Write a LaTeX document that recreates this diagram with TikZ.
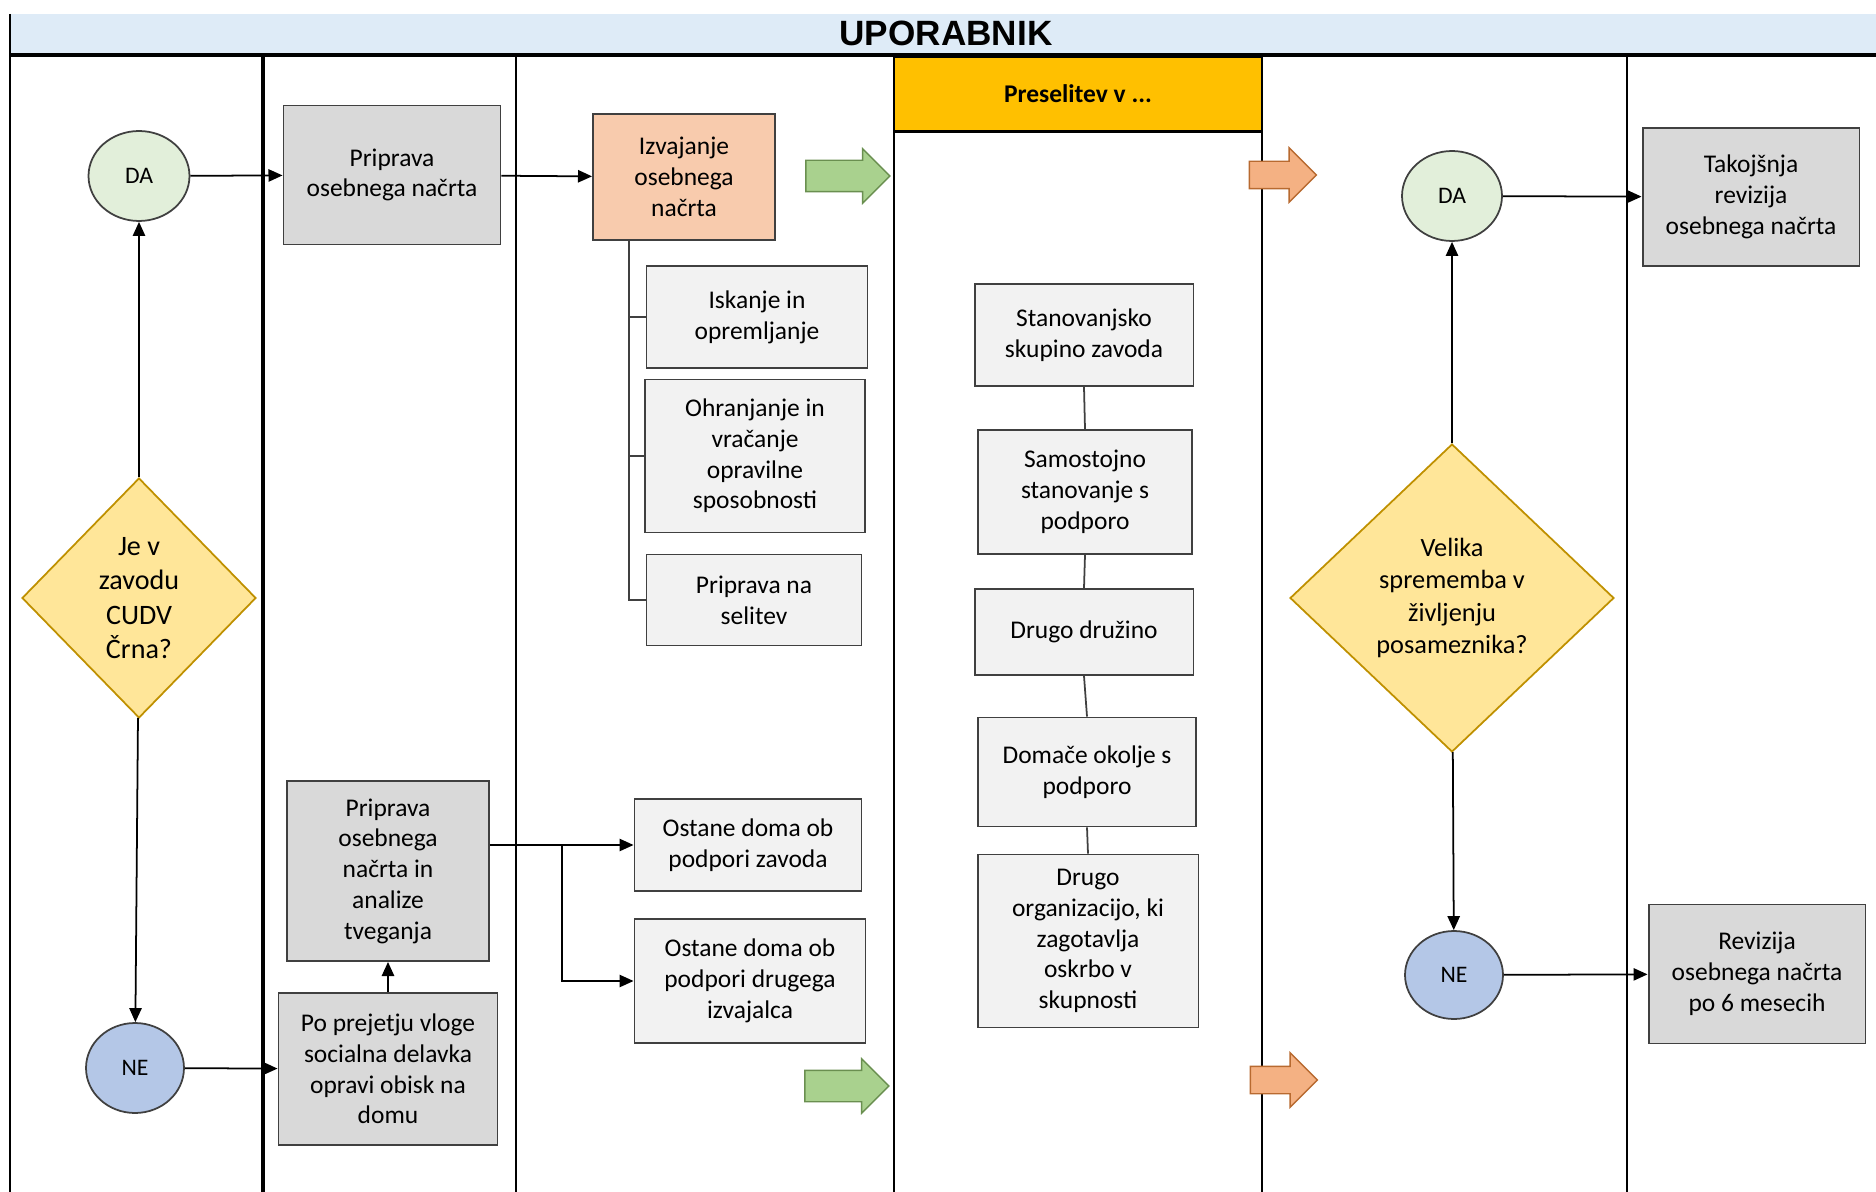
\documentclass[tikz,border=0pt]{standalone}
\usepackage{fontspec}
\setmainfont{Carlito}
\newfontfamily\titlefont{Liberation Sans}
\usetikzlibrary{shapes.geometric, shapes.arrows, arrows.meta, positioning}

\definecolor{bandblue}{HTML}{DEEBF7}
\definecolor{headgold}{HTML}{FFC000}
\definecolor{boxline}{HTML}{404040}
\definecolor{boxgray}{HTML}{D9D9D9}
\definecolor{boxlight}{HTML}{F2F2F2}
\definecolor{boxpeach}{HTML}{F8CBAD}
\definecolor{dagreen}{HTML}{E2EFDA}
\definecolor{neblue}{HTML}{B4C7E7}
\definecolor{askyellow}{HTML}{FFE699}
\definecolor{askline}{HTML}{BF9000}
\definecolor{arrgreen}{HTML}{A9D18E}
\definecolor{arrgreenline}{HTML}{6A8F50}
\definecolor{arrorange}{HTML}{F4B183}
\definecolor{arrorangeline}{HTML}{B86A30}

\begin{document}
\begin{tikzpicture}[x=0.02cm, y=-0.02cm,
	every node/.style={font=\fontsize{14.5}{17.5}\selectfont, align=center},
	box/.style={rectangle, draw=boxline, line width=1.1pt, inner sep=2pt},
	graybox/.style={box, fill=boxgray},
	lightbox/.style={box, fill=boxlight},
	peachbox/.style={box, fill=boxpeach},
	dabubble/.style={ellipse, draw=boxline, line width=1pt, fill=dagreen, minimum width=2.02cm, minimum height=1.8cm, inner sep=0pt, font=\fontsize{13.5}{16}\selectfont},
	nebubble/.style={dabubble, fill=neblue},
	question/.style={diamond, draw=askline, line width=1pt, fill=askyellow, inner sep=0pt},
	flow/.style={-{Triangle[length=8pt,width=7pt]}, line width=1pt},
	tree/.style={line width=1pt, draw=boxline},
	lane/.style={line width=1pt},
	greenarrow/.style={single arrow, draw=arrgreenline, fill=arrgreen, line width=0.8pt, minimum height=1.68cm, inner xsep=0pt, inner ysep=0.3cm, single arrow head extend=0.23cm},
	orangearrow/.style={single arrow, draw=arrorangeline, fill=arrorange, line width=0.8pt, minimum height=1.34cm, inner xsep=0pt, inner ysep=0.26cm, single arrow head extend=0.27cm}
]
	\useasboundingbox (0,0) rectangle (1876,1192);

	% title band and lanes
	\fill[bandblue] (10,14) rectangle (1876,55);
	\node[font=\titlefont\bfseries\fontsize{20}{24}\selectfont] (title) at (946,33) {UPORABNIK};
	\draw[lane] (10,14) -- (10,1192);
	\draw[line width=2.4pt] (263,55) -- (263,1192);
	\foreach \lx in {516, 894, 1262, 1627}
		\draw[lane] (\lx,55) -- (\lx,1192);
	\draw[line width=2pt] (10,55) -- (1876,55);
	\node[rectangle, draw=black, line width=1.2pt, fill=headgold, minimum width=7.36cm, minimum height=1.5cm, font=\bfseries\fontsize{14.5}{17.5}\selectfont] (head) at (1078,94) {Preselitev v ...};

	% lane 1
	\node[dabubble] 						(da1)	at (139,176)	{DA};
	\node[question, minimum width=4.68cm, minimum height=4.8cm, font=\fontsize{16}{19.5}\selectfont]
											(ask1)	at (139,598)	{Je v\\zavodu\\CUDV\\Črna?};
	\node[nebubble, minimum width=1.96cm]	(ne1)	at (135,1068)	{NE};

	% lane 2
	\node[graybox, minimum width=4.34cm, minimum height=2.78cm]	(plan)	at (392,175)	{Priprava\\osebnega načrta};
	\node[graybox, minimum width=4.04cm, minimum height=3.6cm]	(risk)	at (388,871)	{Priprava\\osebnega\\načrta in\\analize\\tveganja};
	\node[graybox, minimum width=4.38cm, minimum height=3.04cm]	(visit)	at (388,1069)	{Po prejetju vloge\\socialna delavka\\opravi obisk na\\domu};

	% lane 3
	\node[peachbox, minimum width=3.64cm, minimum height=2.52cm]	(exec)	at (684,177)	{Izvajanje\\osebnega\\načrta};
	\node[lightbox, minimum width=4.42cm, minimum height=2.04cm]	(equip)	at (757,317)	{Iskanje in\\opremljanje};
	\node[lightbox, minimum width=4.4cm, minimum height=3.06cm]		(skill)	at (755,456)	{Ohranjanje in\\vračanje\\opravilne\\sposobnosti};
	\node[lightbox, minimum width=4.3cm, minimum height=1.82cm]		(move)	at (754,600)	{Priprava na\\selitev};
	\node[lightbox, minimum width=4.54cm, minimum height=1.84cm]	(homeA)	at (748,845)	{Ostane doma ob\\podpori zavoda};
	\node[lightbox, minimum width=4.62cm, minimum height=2.48cm]	(homeB)	at (750,981)	{Ostane doma ob\\podpori drugega\\izvajalca};
	\node[greenarrow]	(go1)	at (840,176)	{};
	\node[greenarrow]	(go2)	at (839,1086)	{};

	% lane 4
	\node[lightbox, minimum width=4.38cm, minimum height=2.04cm]	(group)	at (1084,335)	{Stanovanjsko\\skupino zavoda};
	\node[lightbox, minimum width=4.28cm, minimum height=2.48cm]	(alone)	at (1085,492)	{Samostojno\\stanovanje s\\podporo};
	\node[lightbox, minimum width=4.38cm, minimum height=1.72cm]	(family)	at (1084,632)	{Drugo družino};
	\node[lightbox, minimum width=4.36cm, minimum height=2.18cm]	(own)	at (1087,772)	{Domače okolje s\\podporo};
	\node[lightbox, minimum width=4.42cm, minimum height=3.46cm]	(org)	at (1088,941)	{Drugo\\organizacijo, ki\\zagotavlja\\oskrbo v\\skupnosti};
	\node[orangearrow]	(go3)	at (1276,175)	{};
	\node[orangearrow]	(go4)	at (1277,1080)	{};

	% lane 5
	\node[dabubble, minimum width=2cm]		(da2)	at (1452,196)	{DA};
	\node[question, minimum width=6.48cm, minimum height=6.16cm, font=\fontsize{15}{18.5}\selectfont]
											(ask2)	at (1452,598)	{Velika\\sprememba v\\življenju\\posameznika?};
	\node[nebubble, minimum width=1.96cm, minimum height=1.76cm]	(ne2)	at (1454,975)	{NE};
	\node[graybox, minimum width=4.34cm, minimum height=2.76cm]	(now)	at (1751,197)	{Takojšnja\\revizija\\osebnega načrta};
	\node[graybox, minimum width=4.34cm, minimum height=2.78cm]	(later)	at (1757,974)	{Revizija\\osebnega načrta\\po 6 mesecih};

	\path[flow]
	(ask1)	edge	(da1)
			edge	(ne1)
	(da1)	edge	(plan)
	(plan)	edge	(exec)
	(ne1)	edge	(visit)
	(visit)	edge	(risk)
	(ask2)	edge	(da2)
			edge	(ne2)
	(da2)	edge	(now)
	(ne2)	edge	(later)
;

	% branches
	\coordinate (split) at (562,845);
	\draw[flow] (risk.east |- homeA.west) -- (homeA.west);
	\draw[flow] (split) |- (homeB.west);

	\path (exec.south) ++(-55,0) coordinate (trunk);
	\draw[tree] (trunk) |- (move.west);
	\draw[tree] (trunk |- equip.west) -- (equip.west);
	\draw[tree] (trunk |- skill.west) -- (skill.west);

	\path[tree]
	(group.south)	edge	(alone.north)
	(alone.south)	edge	(family.north)
	(family.south)	edge	(own.north)
	(own.south)		edge	(org.north)
;
\end{tikzpicture}
\end{document}
